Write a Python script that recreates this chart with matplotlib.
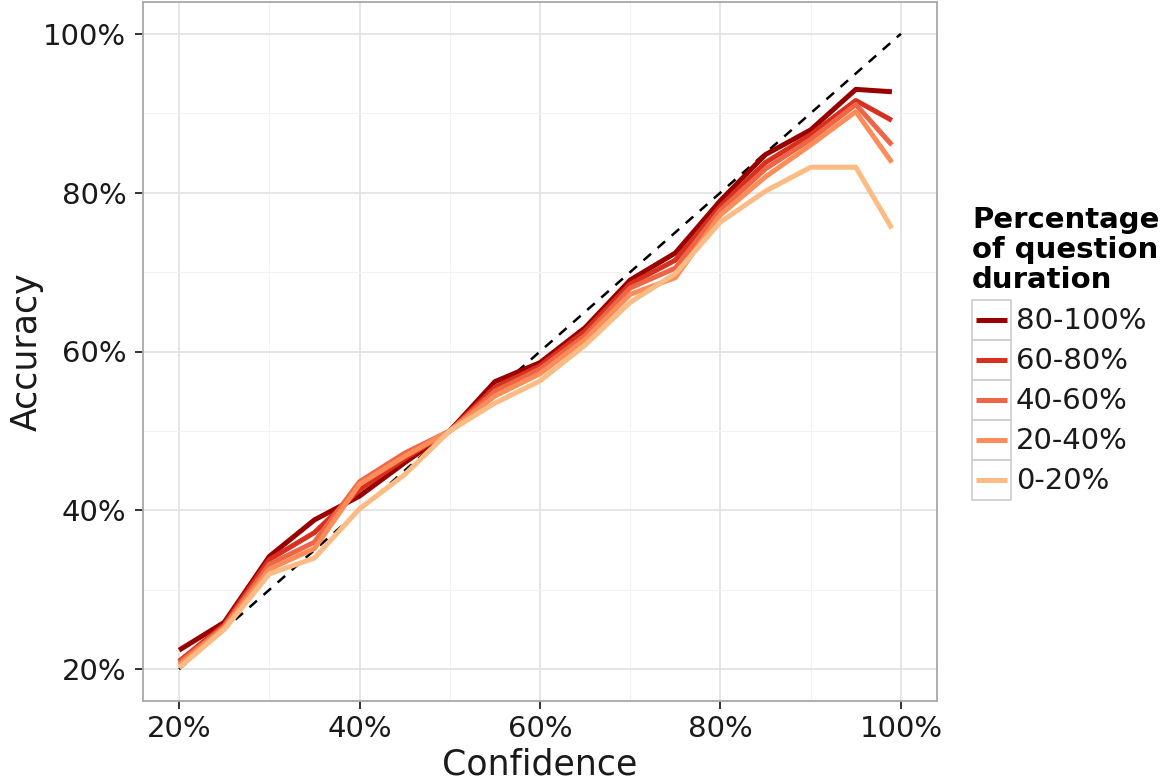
import matplotlib
matplotlib.use("Agg")
import matplotlib.pyplot as plt
from matplotlib.patches import Rectangle
from matplotlib.lines import Line2D
from matplotlib.ticker import FuncFormatter, MultipleLocator

# confidence bins (%)
confidence = [20, 25, 30, 35, 40, 45, 50, 55, 60, 65, 70, 75, 80, 85, 90, 95, 99]

# accuracy (%) per share of question duration elapsed
acc_80_100 = [22.4, 25.9, 34.2, 38.8, 41.8, 46.0, 50.0, 56.2, 58.6, 63.0, 69.0, 72.4, 79.0, 84.8, 87.9, 93.0, 92.7]
acc_60_80 = [21.0, 25.6, 33.8, 37.2, 42.6, 46.5, 50.0, 55.5, 58.2, 62.6, 68.5, 71.5, 78.3, 83.8, 87.3, 91.6, 89.1]
acc_40_60 = [20.8, 25.4, 33.2, 36.0, 43.6, 47.2, 50.0, 55.0, 57.8, 62.0, 68.0, 70.5, 77.8, 83.0, 86.7, 91.1, 86.0]
acc_20_40 = [20.5, 25.2, 32.6, 35.2, 43.3, 46.8, 50.0, 54.4, 57.2, 61.5, 67.2, 69.3, 77.2, 82.0, 86.0, 90.2, 83.8]
acc_0_20 = [20.2, 25.0, 32.0, 34.0, 40.2, 44.5, 50.0, 53.5, 56.3, 60.8, 66.2, 69.8, 76.3, 80.2, 83.2, 83.2, 75.5]

labels = ["80-100%", "60-80%", "40-60%", "20-40%", "0-20%"]
series = [acc_80_100, acc_60_80, acc_40_60, acc_20_40, acc_0_20]
colors = ["#990000", "#d7301f", "#ef6548", "#fc8d59", "#fdbb84"]  # OrRd, dark -> light

diag = [20, 100]

W, H = 1161, 780
fig = plt.figure(figsize=(W / 100, H / 100), dpi=100)
ax = fig.add_axes([143 / W, 1 - 701 / H, 794 / W, 699 / H])

ax.plot(diag, diag, color="black", lw=1.8, ls=(0, (4, 3.5)), zorder=1)
for vals, col in zip(series, colors):
    ax.plot(confidence, vals, color=col, lw=3.6, solid_capstyle="butt", zorder=2)

ax.set_xlim(16, 104)
ax.set_ylim(16, 104)
pct = FuncFormatter(lambda v, _: f"{v:.0f}%")
for axis in (ax.xaxis, ax.yaxis):
    axis.set_major_locator(MultipleLocator(20))
    axis.set_minor_locator(MultipleLocator(10))
    axis.set_major_formatter(pct)

ax.grid(which="major", color="#e3e3e3", lw=1.3)
ax.grid(which="minor", color="#f2f2f2", lw=0.8)
ax.set_axisbelow(True)
ax.tick_params(which="major", length=6, width=1.4, color="#333333",
               labelsize=21, labelcolor="#1a1a1a")
ax.tick_params(axis="x", pad=4)
ax.tick_params(axis="y", pad=6)
ax.tick_params(which="minor", length=0)
for sp in ax.spines.values():
    sp.set_color("#a8a8a8")
    sp.set_linewidth(1.3)

ax.set_xlabel("Confidence", fontsize=25, color="#1a1a1a")
ax.set_ylabel("Accuracy", fontsize=25, color="#1a1a1a")
ax.xaxis.set_label_coords(0.5, -0.067)
ax.yaxis.set_label_coords(-0.125, 0.5)

# legend drawn by hand to get the boxed keys
def px(x, y):
    return x / W, 1 - y / H

for i, line in enumerate(["Percentage", "of question", "duration"]):
    fig.text(*px(972, 228 + 30 * i), line, fontsize=21, fontweight="bold",
             ha="left", va="baseline")

for i, (lab, col) in enumerate(zip(labels, colors)):
    top = 300 + 40 * i
    fig.patches.append(Rectangle(px(972, top + 40), 39 / W, 40 / H, transform=fig.transFigure,
                                 facecolor="white", edgecolor="#cccccc", lw=1.2))
    x0, yc = px(976, top + 20)
    x1, _ = px(1007, top + 20)
    fig.lines.append(Line2D([x0, x1], [yc, yc], transform=fig.transFigure,
                            color=col, lw=3.6, solid_capstyle="butt"))
    fig.text(*px(1016, top + 21), lab, fontsize=21, ha="left", va="center", color="#1a1a1a")

fig.savefig("out.png", dpi=100)
